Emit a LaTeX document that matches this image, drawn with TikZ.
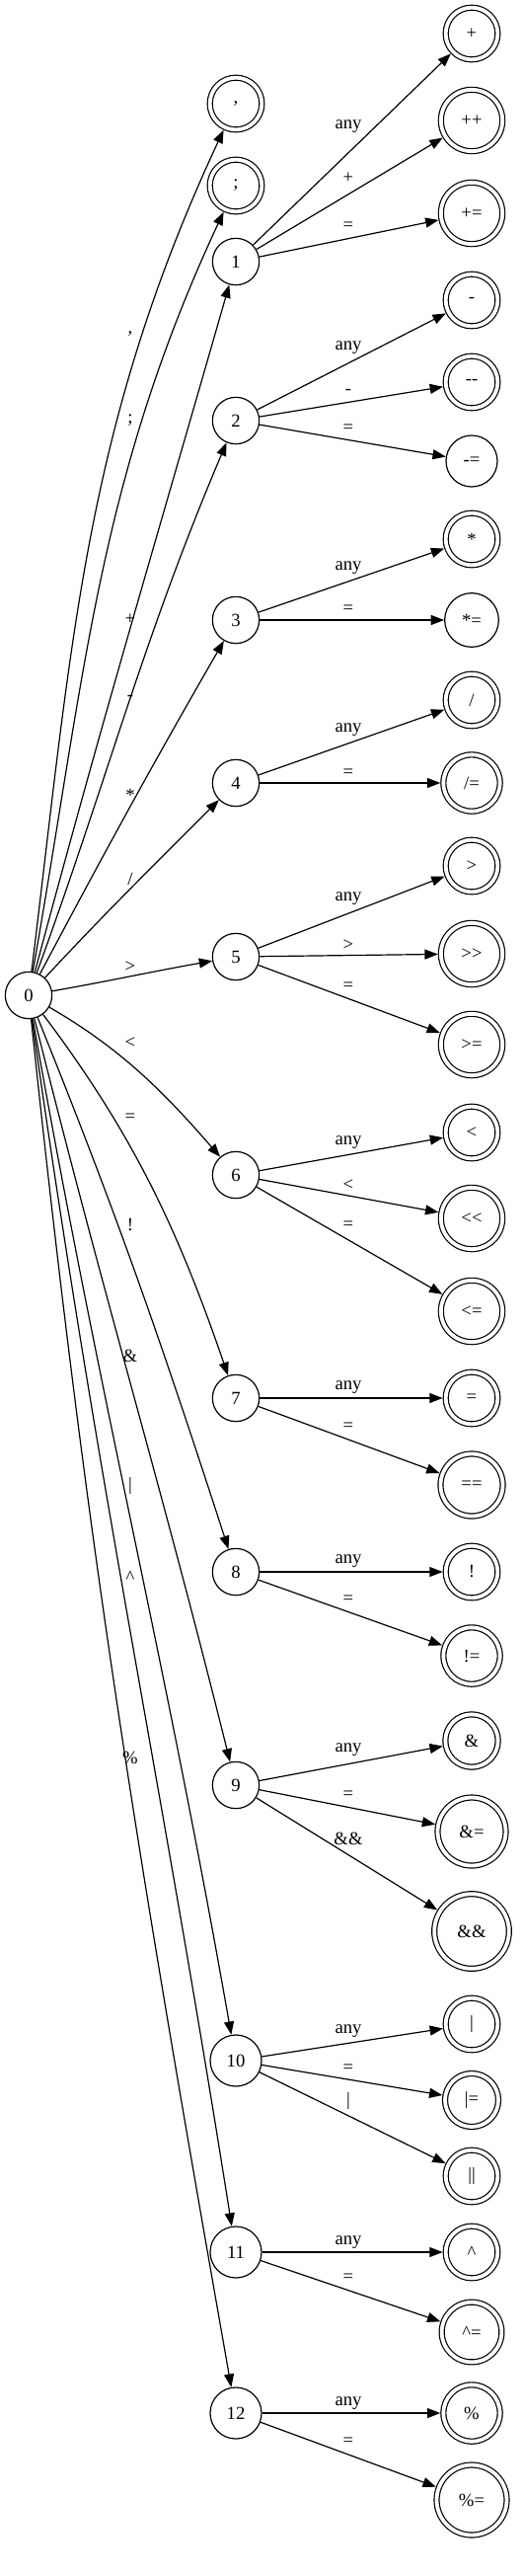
\documentclass[tikz,border=0pt]{standalone}
\usepackage{fontspec}
\newfontfamily\gvfont{Liberation Serif}
\usetikzlibrary{arrows.meta}
\tikzset{
  state/.style={circle, draw, line width=0.9pt, minimum size=#1, inner sep=1pt,
    font=\gvfont\fontsize{14}{16}\selectfont},
  state/.default=35.5pt,
  accept/.style={state=#1, double, double distance=2.85pt, outer sep=2.3pt},
  accept/.default=39.5pt,
  edge/.style={line width=0.9pt, -{Triangle[length=10pt,width=7.5pt]}},
  lbl/.style={inner sep=0pt, font=\gvfont\fontsize{14}{16}\selectfont}
}
\begin{document}
\begin{tikzpicture}[x=0.75pt, y=-0.75pt]
    \useasboundingbox (0,0) rectangle (531,2609);
    % start state and the second column
    \node [state] (s0) at (29,1008) {0};
    \node [accept] (comma) at (239,105) {,};
    \node [accept] (semi) at (239,188) {;};
    \node [state] (s1) at (239,265) {1};
    \node [state] (s2) at (239,426) {2};
    \node [state] (s3) at (239,628) {3};
    \node [state] (s4) at (239,793) {4};
    \node [state] (s5) at (239,969) {5};
    \node [state] (s6) at (239,1190) {6};
    \node [state] (s7) at (239,1416) {7};
    \node [state] (s8) at (239,1592) {8};
    \node [state] (s9) at (239,1808) {9};
    \node [state=39pt] (s10) at (239,2087) {10};
    \node [state=39pt] (s11) at (239,2281) {11};
    \node [state=39pt] (s12) at (239,2444) {12};
    % operators
    \node [accept] (plus) at (478,34) {+};
    \node [accept=46.75pt] (incr) at (478,122) {++};
    \node [accept=46.75pt] (pluseq) at (478,216) {+=};
    \node [accept] (minus) at (478,304) {-};
    \node [accept] (decr) at (478,387) {--};
    \node [state=39pt] (minuseq) at (478,467) {-=};
    \node [accept] (mul) at (478,546) {*};
    \node [state=41pt] (muleq) at (478,628) {*=};
    \node [accept] (div) at (478,709) {/};
    \node [accept=43pt] (diveq) at (478,793) {/=};
    \node [accept] (gt) at (478,877) {>};
    \node [accept=46.75pt] (shr) at (478,966) {>>};
    \node [accept=46.75pt] (ge) at (478,1058) {>=};
    \node [accept] (lt) at (478,1147) {<};
    \node [accept=46.75pt] (shl) at (478,1234) {<<};
    \node [accept=46.75pt] (le) at (478,1328) {<=};
    \node [accept] (assign) at (478,1416) {=};
    \node [accept=47.3pt] (eq) at (478,1504) {==};
    \node [accept] (bang) at (478,1592) {!};
    \node [accept=43pt] (ne) at (478,1677) {!=};
    \node [accept=40pt] (amp) at (478,1763) {\&};
    \node [accept=51.75pt] (andeq) at (478,1855) {\&=};
    \node [accept=56.75pt] (land) at (478,1956) {\&\&};
    \node [accept] (bar) at (478,2050) {|};
    \node [accept=40.5pt] (oreq) at (478,2127) {|=};
    \node [accept] (lor) at (478,2204) {||};
    \node [accept] (xor) at (478,2281) {\textasciicircum};
    \node [accept=45.5pt] (xoreq) at (478,2362) {\textasciicircum=};
    \node [accept=43pt] (mod) at (478,2444) {\%};
    \node [accept=53.25pt] (modeq) at (478,2532) {\%=};
    % out of the start state
    \draw [edge] (s0) .. controls +(83:272pt) and +(245:272pt) .. (comma) node [lbl] at (132,338) {,};
    \draw [edge] (s0) .. controls +(80:248pt) and +(245:248pt) .. (semi) node [lbl] at (132,426) {;};
    \draw [edge] (s0) .. controls +(75:227pt) and +(254:227pt) .. (s1) node [lbl] at (132,627) {+};
    \draw [edge] (s0) .. controls +(70:182pt) and +(247:182pt) .. (s2) node [lbl] at (132,707) {-};
    \draw [edge] (s0) .. controls +(62:127pt) and +(240:127pt) .. (s3) node [lbl] at (132,805) {*};
    \draw [edge] (s0) .. controls +(47:88pt) and +(225:88pt) .. (s4) node [lbl] at (132,890) {/};
    \draw [edge] (s0) .. controls +(10:63pt) and +(190:63pt) .. (s5) node [lbl] at (132,979) {>};
    \draw [edge] (s0) .. controls +(-30:82pt) and +(131:82pt) .. (s6) node [lbl] at (132,1056) {<};
    \draw [edge] (s0) .. controls +(-53:134pt) and +(109:134pt) .. (s7) node [lbl] at (132,1132) {=};
    \draw [edge] (s0) .. controls +(-68:182pt) and +(108:182pt) .. (s8) node [lbl] at (132,1241) {!};
    \draw [edge] (s0) .. controls +(-76:243pt) and +(104:243pt) .. (s9) node [lbl] at (132,1373) {\&};
    \draw [edge] (s0) .. controls +(-80:323pt) and +(100:323pt) .. (s10) node [lbl] at (132,1505) {|};
    \draw [edge] (s0) .. controls +(-82:379pt) and +(99:379pt) .. (s11) node [lbl] at (132,1597) {\textasciicircum};
    \draw [edge] (s0) .. controls +(-84:426pt) and +(100:426pt) .. (s12) node [lbl] at (132,1780) {\%};
    % second characters
    \draw [edge] (s1) -- (plus) node [lbl] at (353,128) {any};
    \draw [edge] (s1) -- (incr) node [lbl] at (353,180) {+};
    \draw [edge] (s1) -- (pluseq) node [lbl] at (353,229) {=};
    \draw [edge] (s2) -- (minus) node [lbl] at (353,352) {any};
    \draw [edge] (s2) -- (decr) node [lbl] at (353,397) {-};
    \draw [edge] (s2) -- (minuseq) node [lbl] at (353,434) {=};
    \draw [edge] (s3) -- (mul) node [lbl] at (353,575) {any};
    \draw [edge] (s3) -- (muleq) node [lbl] at (353,617) {=};
    \draw [edge] (s4) -- (div) node [lbl] at (353,739) {any};
    \draw [edge] (s4) -- (diveq) node [lbl] at (353,783) {=};
    \draw [edge] (s5) -- (gt) node [lbl] at (353,910) {any};
    \draw [edge] (s5) -- (shr) node [lbl] at (353,957) {>};
    \draw [edge] (s5) -- (ge) node [lbl] at (353,999) {=};
    \draw [edge] (s6) -- (lt) node [lbl] at (353,1157) {any};
    \draw [edge] (s6) -- (shl) node [lbl] at (353,1200) {<};
    \draw [edge] (s6) -- (le) node [lbl] at (353,1241) {=};
    \draw [edge] (s7) -- (assign) node [lbl] at (353,1405) {any};
    \draw [edge] (s7) -- (eq) node [lbl] at (353,1445) {=};
    \draw [edge] (s8) -- (bang) node [lbl] at (353,1581) {any};
    \draw [edge] (s8) -- (ne) node [lbl] at (353,1620) {=};
    \draw [edge] (s9) -- (amp) node [lbl] at (353,1772) {any};
    \draw [edge] (s9) -- (andeq) node [lbl] at (353,1818) {=};
    \draw [edge] (s9) -- (land) node [lbl] at (353,1862) {\&\&};
    \draw [edge] (s10) -- (bar) node [lbl] at (353,2057) {any};
    \draw [edge] (s10) -- (oreq) node [lbl] at (353,2095) {=};
    \draw [edge] (s10) -- (lor) node [lbl] at (353,2128) {|};
    \draw [edge] (s11) -- (xor) node [lbl] at (353,2271) {any};
    \draw [edge] (s11) -- (xoreq) node [lbl] at (353,2307) {=};
    \draw [edge] (s12) -- (mod) node [lbl] at (353,2434) {any};
    \draw [edge] (s12) -- (modeq) node [lbl] at (353,2473) {=};
\end{tikzpicture}
\end{document}
